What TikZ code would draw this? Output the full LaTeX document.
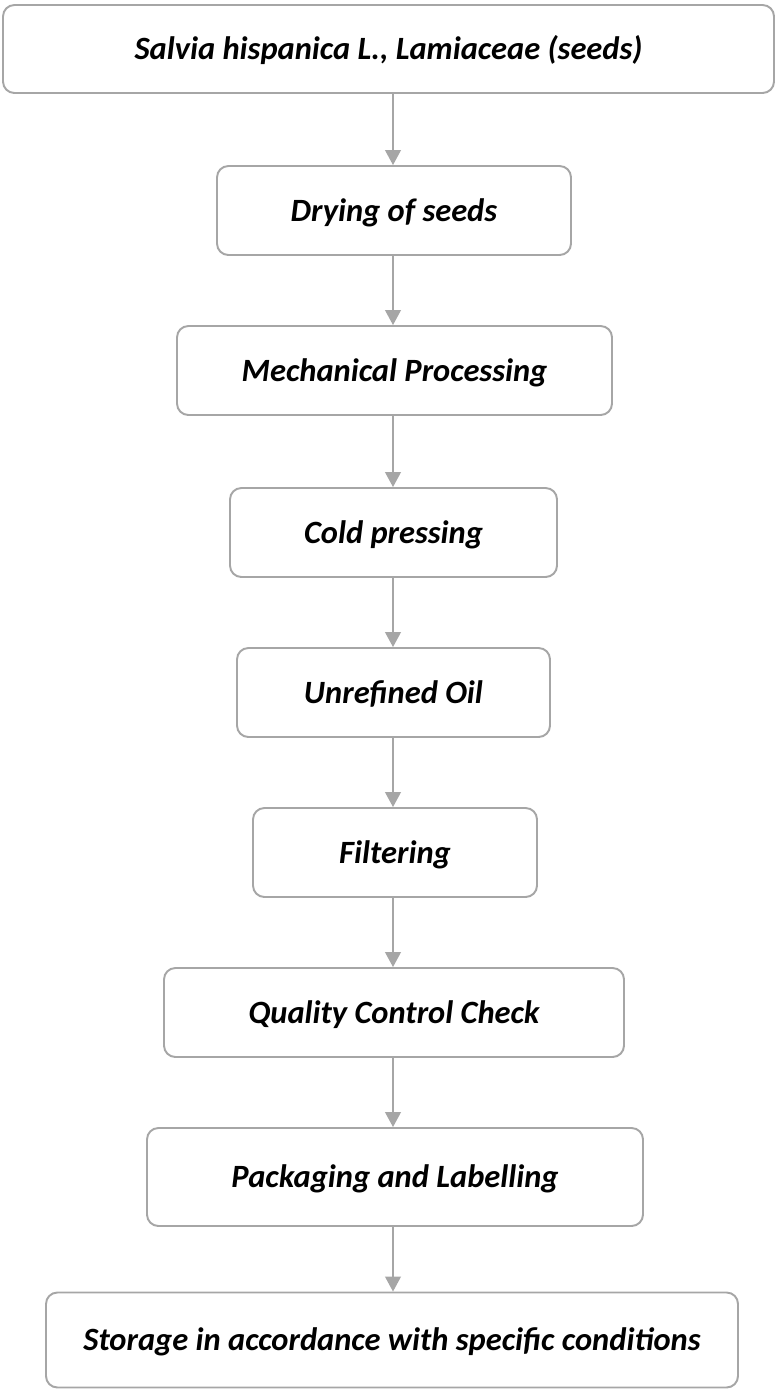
\documentclass[tikz,border=0pt]{standalone}
\usepackage{fontspec}
\setmainfont{Carlito}
\usetikzlibrary{arrows.meta}
\definecolor{boxgray}{HTML}{A6A6A6}
\tikzset{
	stage/.style={draw=boxgray,line width=1.1pt,rounded corners=6.5pt,fill=white,
		font=\fontsize{18.5}{22}\selectfont\bfseries\itshape,
		text height=12pt,text depth=0pt,inner sep=0pt},
	flow/.style={draw=boxgray,line width=0.8pt,-{Triangle[width=9pt,length=8.5pt]}}
}
\begin{document}
\begin{tikzpicture}[x=0.02cm,y=-0.02cm]
		\useasboundingbox (0,0) rectangle (775,1390);
		\node[stage,minimum width=771*0.02cm,minimum height=88*0.02cm] (seeds) at (388.5,49) {Salvia hispanica L., Lamiaceae (seeds)};
		\node[stage,minimum width=354*0.02cm,minimum height=89*0.02cm] (drying) at (394,210.5) {Drying of seeds};
		\node[stage,minimum width=435*0.02cm,minimum height=89*0.02cm] (mech) at (394.5,370.5) {Mechanical Processing};
		\node[stage,minimum width=327*0.02cm,minimum height=89*0.02cm] (press) at (393.5,532.5) {Cold pressing};
		\node[stage,minimum width=313*0.02cm,minimum height=89*0.02cm] (oil) at (393.5,692.5) {Unrefined Oil};
		\node[stage,minimum width=284*0.02cm,minimum height=89*0.02cm] (filter) at (395,852.5) {Filtering};
		\node[stage,minimum width=460*0.02cm,minimum height=89*0.02cm] (qc) at (394,1012.5) {Quality Control Check};
		\node[stage,minimum width=496*0.02cm,minimum height=98*0.02cm] (pack) at (395,1177) {Packaging and Labelling};
		\node[stage,minimum width=692*0.02cm,minimum height=95*0.02cm] (store) at (392,1340) {Storage in accordance with specific conditions};
		\draw[flow] (seeds.south -| 393,0) -- (drying.north -| 393,0);
		\draw[flow] (drying.south -| 393,0) -- (mech.north -| 393,0);
		\draw[flow] (mech.south -| 393,0) -- (press.north -| 393,0);
		\draw[flow] (press.south -| 393,0) -- (oil.north -| 393,0);
		\draw[flow] (oil.south -| 393,0) -- (filter.north -| 393,0);
		\draw[flow] (filter.south -| 393,0) -- (qc.north -| 393,0);
		\draw[flow] (qc.south -| 393,0) -- (pack.north -| 393,0);
		\draw[flow] (pack.south -| 393,0) -- (store.north -| 393,0);
\end{tikzpicture}
\end{document}
